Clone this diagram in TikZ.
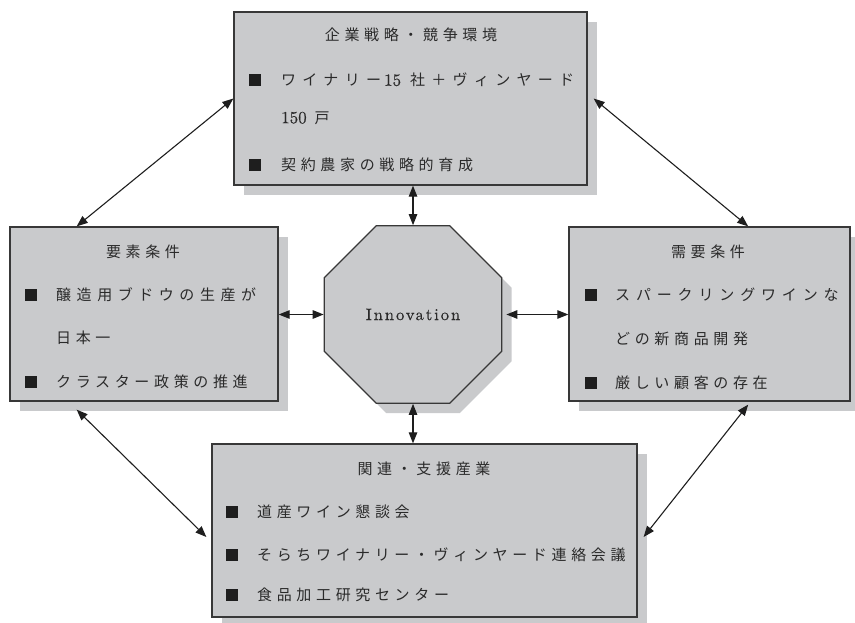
\documentclass[tikz,border=0pt]{standalone}
\usepackage{fontspec}
\usetikzlibrary{arrows.meta,shapes.geometric,shadows,calc}
\newfontfamily\cjk[LetterSpace=31]{Noto Sans CJK JP}
\newfontfamily\cjkA[LetterSpace=37]{Noto Sans CJK JP}
\newfontfamily\cjkB[LetterSpace=39]{Noto Sans CJK JP}
\newfontfamily\cjkC[LetterSpace=42]{Noto Sans CJK JP}
\newfontfamily\latsp[LetterSpace=12,FakeBold=0.6]{lmroman10-regular.otf}
\newfontfamily\latdg[FakeBold=0.4]{lmroman10-regular.otf}
\newcommand\lat[1]{{\fontsize{17pt}{19pt}\selectfont\latdg #1}}
\definecolor{boxgray}{HTML}{C9CACC}
\definecolor{edgecol}{HTML}{383838}
\definecolor{inkcol}{HTML}{2A2A2A}
\definecolor{bulcol}{HTML}{1E1E1E}
\tikzset{
  shade10/.style={drop shadow={shadow xshift=10pt,shadow yshift=-10pt,fill=boxgray,opacity=1}},
  panel/.style={shade10,draw=edgecol,line width=1.3pt,fill=boxgray,inner sep=0pt,rectangle},
  ttl/.style={inner sep=0pt,text=inkcol,font=\fontsize{15pt}{17pt}\selectfont\cjk},
  ln/.style={inner sep=0pt,anchor=west,text=inkcol,font=\fontsize{15pt}{17pt}\selectfont\cjk},
  bul/.style={fill=bulcol,rectangle,minimum width=12pt,minimum height=12pt,inner sep=0pt},
  conn/.style={{Triangle[length=11pt,width=8.5pt]}-{Triangle[length=11pt,width=8.5pt]},line width=1.1pt,draw=bulcol}
}
\begin{document}
\begin{tikzpicture}[x=1pt,y=-1pt]
\useasboundingbox (0,0) rectangle (855,623);
% boxes
\node[panel,minimum width=353pt,minimum height=173pt] (T) at (410.5,98.5) {};
\node[panel,minimum width=268pt,minimum height=174pt] (L) at (144,314) {};
\node[panel,minimum width=281pt,minimum height=174pt] (R) at (709.5,314) {};
\node[panel,minimum width=425pt,minimum height=173pt] (B) at (424.5,530.5) {};
\node[shade10,draw=edgecol,line width=1.3pt,fill=boxgray,regular polygon,regular polygon sides=8,
      minimum size=192pt,inner sep=0pt,text=inkcol,font=\fontsize{16.5pt}{18pt}\selectfont\latsp] (O) at (413,314.5) {Innovation};
% top box text
\node[ttl] (t0) at (411,35) {企業戦略・競争環境};
\node[bul] (tb1) at (254.5,80) {};
\node[ln] (t1) at (281,80) {{\cjkC ワイナリー}\hspace{3pt}\lat{15}\hspace{9pt}{\cjkC 社＋ヴィンヤード}};
\node[ln] (t2) at (281,118) {\lat{150}\hspace{8pt}戸};
\node[bul] (tb3) at (254.5,165) {};
\node[ln] (t3) at (281,165) {契約農家の戦略的育成};
% left box text
\node[ttl] (l0) at (143,252) {要素条件};
\node[bul] (lb1) at (31,295) {};
\node[ln] (l1) at (56,295) {\cjkA 醸造用ブドウの生産が};
\node[ln] (l2) at (56,338) {日本一};
\node[bul] (lb3) at (31,382) {};
\node[ln] (l3) at (56,382) {クラスター政策の推進};
% right box text
\node[ttl] (r0) at (708,252) {需要条件};
\node[bul] (rb1) at (590.5,295) {};
\node[ln] (r1) at (615,295) {\cjkB スパークリングワインな};
\node[ln] (r2) at (615,339) {どの新商品開発};
\node[bul] (rb3) at (590.5,383) {};
\node[ln] (r3) at (615,383) {厳しい顧客の存在};
% bottom box text
\node[ttl] (b0) at (424,469) {関連・支援産業};
\node[bul] (bb1) at (232,512) {};
\node[ln] (b1) at (257,512) {道産ワイン懇談会};
\node[bul] (bb2) at (232,555) {};
\node[ln] (b2) at (257,555) {そらちワイナリー・ヴィンヤード連絡会議};
\node[bul] (bb3) at (232,595) {};
\node[ln] (b3) at (257,595) {食品加工研究センター};
% connectors
\draw[conn] (T.west) -- ($(L.north west)!0.25!(L.north east)$);
\draw[conn] ($(T.east)+(6,0)$) -- ($(R.north west)!0.637!(R.north east)$);
\draw[conn] ($(L.south west)!0.25!(L.south east)+(0,8)$) -- ($(B.west)+(-5,6.5)$);
\draw[conn] ($(R.south west)!0.637!(R.south east)+(0,3)$) -- ($(B.east)+(6,6.5)$);
\draw[conn] (T.south -| O.north) -- (O.north);
\draw[conn] (O.south) -- (O.south |- B.north);
\draw[conn] (O.west -| L.east) -- (O.west);
\draw[conn] ($(O.east)+(4,0)$) -- (O.east -| R.west);
\end{tikzpicture}
\end{document}
